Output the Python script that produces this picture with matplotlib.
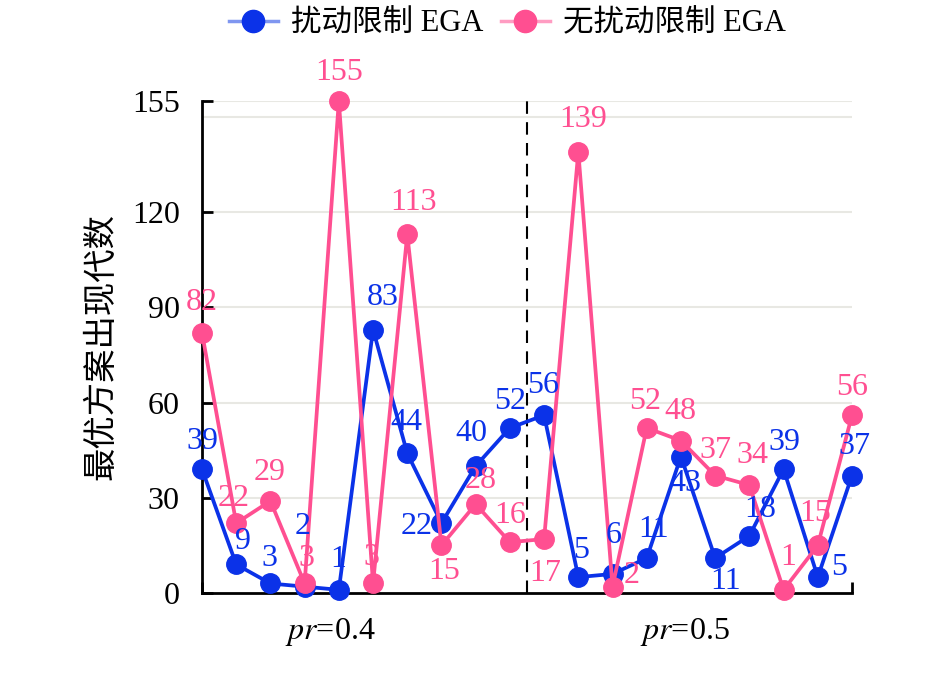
import matplotlib
matplotlib.use('Agg')
import matplotlib.pyplot as plt
from matplotlib.lines import Line2D

plt.rcParams['font.family'] = ['Liberation Serif', 'Noto Sans CJK SC']
plt.rcParams['mathtext.fontset'] = 'stix'

# data
series_names = ['扰动限制 EGA', '无扰动限制 EGA']
blue_vals = [39, 9, 3, 2, 1, 83, 44, 22, 40, 52,
             56, 5, 6, 11, 43, 11, 18, 39, 5, 37]
pink_vals = [82, 22, 29, 3, 155, 3, 113, 15, 28, 16,
             17, 139, 2, 52, 48, 37, 34, 1, 15, 56]
group_labels = [r'$\mathit{pr}$=0.4', r'$\mathit{pr}$=0.5']
yticks = [0, 30, 60, 90, 120, 155]
grid_vals = [30, 60, 90, 120, 150, 155]
ylabel = '最优方案出现代数'

# label offsets in pixels (dx, dy)
blue_off = [(0, 28), (7, 23), (-1, 25), (-2, 60), (-1, 30), (10, 32), (-1, 31), (-25, -3),
            (-4, 33), (0, 26), (-1, 30), (3, 27), (1, 38), (7, 29), (4, -27), (10, -23),
            (11, 26), (1, 27), (21, 10), (2, 29)]
pink_off = [(0, 30), (-3, 25), (-1, 28), (2, 25), (0, 28), (-2, 26), (6, 32), (3, -26),
            (5, 24), (0, 27), (1, -34), (5, 32), (19, 11), (-2, 26), (-1, 29), (0, 25),
            (3, 30), (5, 32), (-3, 32), (0, 28)]

blue = '#0B32E8'
pink = '#FF4F91'

fig = plt.figure(figsize=(9.45, 6.98), dpi=100)
ax = fig.add_axes([202 / 945, 1 - 593 / 698, 650 / 945, 492 / 698])

x = list(range(len(blue_vals)))
for g in grid_vals:
    ax.axhline(g, color='#E8E8E3', lw=1.5, zorder=0)

ax.plot(x, blue_vals, color=blue, lw=2.7, marker='o', ms=14, mec=blue, mfc=blue,
        clip_on=False, zorder=3)
ax.plot(x, pink_vals, color=pink, lw=2.7, marker='o', ms=14, mec=pink, mfc=pink,
        clip_on=False, zorder=4)

for xi, v, o in zip(x, blue_vals, blue_off):
    ax.annotate(str(v), (xi, v), xytext=o, textcoords='offset pixels', ha='center',
                va='center', color=blue, fontsize=23, zorder=6, annotation_clip=False)
for xi, v, o in zip(x, pink_vals, pink_off):
    ax.annotate(str(v), (xi, v), xytext=o, textcoords='offset pixels', ha='center',
                va='center', color=pink, fontsize=23, zorder=6, annotation_clip=False)

ax.axvline(9.5, ymin=0, ymax=1.008, color='black', lw=1.5, ls=(0, (6, 4)), zorder=2)

ax.set_xlim(0, 19)
ax.set_ylim(0, 155)
ax.set_yticks(yticks)
ax.set_yticklabels([str(t) for t in yticks], fontsize=23)
ax.set_xticks([0, 19])
ax.set_xticklabels([])
ax.tick_params(axis='y', direction='in', length=8, width=2, pad=16)
ax.tick_params(axis='x', direction='in', length=8, width=2)
for s in ['top', 'right']:
    ax.spines[s].set_visible(False)
for s in ['left', 'bottom']:
    ax.spines[s].set_linewidth(2)

ax.text(3.75, -0.08, group_labels[0], transform=ax.get_xaxis_transform(), ha='center',
        va='center', fontsize=23)
ax.text(14.1, -0.08, group_labels[1], transform=ax.get_xaxis_transform(), ha='center',
        va='center', fontsize=23)

ax.set_ylabel(ylabel, fontsize=24, family='Noto Sans CJK SC', labelpad=10)

handles = [Line2D([], [], color='#7F96F0', lw=2.5, marker='o', ms=16, mfc=blue, mec=blue),
           Line2D([], [], color='#FF9CC2', lw=2.5, marker='o', ms=16, mfc=pink, mec=pink)]
fig.legend(handles, series_names, loc='center', bbox_to_anchor=(0.537, 1 - 24 / 698), ncol=2,
           frameon=False, fontsize=22, handlelength=1.6, columnspacing=0.55, handletextpad=0.45)

fig.savefig('out.png', dpi=100)
